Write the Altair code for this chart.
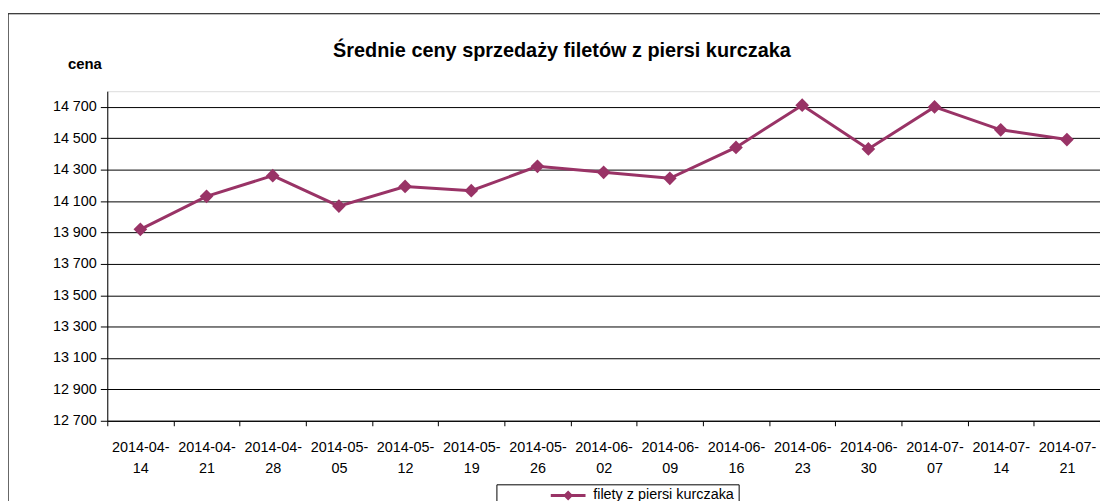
import altair as alt
import pandas as pd

dates = ["2014-04-14", "2014-04-21", "2014-04-28", "2014-05-05", "2014-05-12",
         "2014-05-19", "2014-05-26", "2014-06-02", "2014-06-09", "2014-06-16",
         "2014-06-23", "2014-06-30", "2014-07-07", "2014-07-14", "2014-07-21"]
prices = [13920, 14130, 14262, 14068, 14193, 14166, 14321, 14283, 14245, 14442,
          14711, 14432, 14700, 14554, 14492]
series_name = "filety z piersi kurczaka"
y_ticks = [12700, 12900, 13100, 13300, 13500, 13700, 13900, 14100, 14300, 14500, 14700]
title_text = "Średnie ceny sprzedaży filetów z piersi kurczaka"

df = pd.DataFrame({"data": dates, "cena": prices, "seria": [series_name] * len(dates)})

COLOR = "#993366"
FONT = "Liberation Sans"

x_enc = alt.X(
    "data:O",
    sort=dates,
    scale=alt.Scale(paddingInner=0, paddingOuter=0),
    axis=alt.Axis(
        title=None,
        labelAngle=0,
        labelExpr="[slice(datum.label,0,8), slice(datum.label,8)]",
        labelFontSize=14.5,
        labelLineHeight=21,
        labelColor="black",
        labelFont=FONT,
        labelPadding=15,
        tickBand="extent",
        tickSize=5,
        tickColor="black",
        domainColor="black",
        grid=False,
        labelOverlap=False,
    ),
)

y_enc = alt.Y(
    "cena:Q",
    scale=alt.Scale(domain=[12700, 14800], nice=False, zero=False),
    axis=alt.Axis(
        title="cena",
        titleAngle=0,
        titleX=-23,
        titleY=-28,
        titleAlign="center",
        titleBaseline="middle",
        titleFont=FONT,
        titleFontSize=15,
        titleFontWeight="bold",
        titleColor="black",
        values=y_ticks,
        labelExpr="replace(format(datum.value, ','), ',', ' ')",
        labelFontSize=14.5,
        labelFont=FONT,
        labelColor="black",
        labelPadding=4,
        tickSize=7,
        tickColor="black",
        domainColor="black",
        grid=True,
        gridColor="black",
        gridWidth=1,
    ),
)

color_enc = alt.Color(
    "seria:N",
    scale=alt.Scale(range=[COLOR]),
    legend=alt.Legend(
        title=None,
        orient="none",
        legendX=392,
        legendY=396,
        strokeColor="black",
        padding=4,
        symbolOffset=61,
        symbolType="M-3.5,-0.3L-0.7,-0.3L0,-1L0.7,-0.3L3.5,-0.3L3.5,0.3L0.7,0.3L0,1L-0.7,0.3L-3.5,0.3Z",
        symbolSize=100,
        symbolStrokeWidth=0,
        symbolFillColor=COLOR,
        labelFont=FONT,
        labelFontSize=14.5,
        labelColor="black",
        labelOffset=18,
        fillColor="white",
    ),
)

base = alt.Chart(df)

frame = alt.Chart(pd.DataFrame({"k": [0]})).mark_rect(
    filled=False, stroke="black", strokeWidth=1.2
).encode(
    x=alt.value(-100), x2=alt.value(1010), y=alt.value(-78), y2=alt.value(450)
)

title = alt.Chart(pd.DataFrame({"t": [title_text]})).mark_text(
    font=FONT, fontSize=20, fontWeight="bold", color="black",
    align="center", baseline="middle"
).encode(text="t:N", x=alt.value(458), y=alt.value(-40))

line = base.mark_line(strokeWidth=3).encode(x=x_enc, y=y_enc, color=color_enc)
pts = base.mark_point(shape="diamond", filled=True, size=190, opacity=1).encode(
    x=x_enc, y=y_enc, color=alt.Color("seria:N", scale=alt.Scale(range=[COLOR]), legend=None)
)

chart = alt.layer(frame, title, line, pts).properties(
    width=1000,
    height=332,
    autosize=alt.AutoSizeParams(type="none"),
    padding={"left": 100, "top": 82, "right": 0, "bottom": 79},
).configure_view(
    stroke="#808080", strokeWidth=1
).configure(background="white")

chart.save("out.html", embed_options={"renderer": "svg", "actions": False})
